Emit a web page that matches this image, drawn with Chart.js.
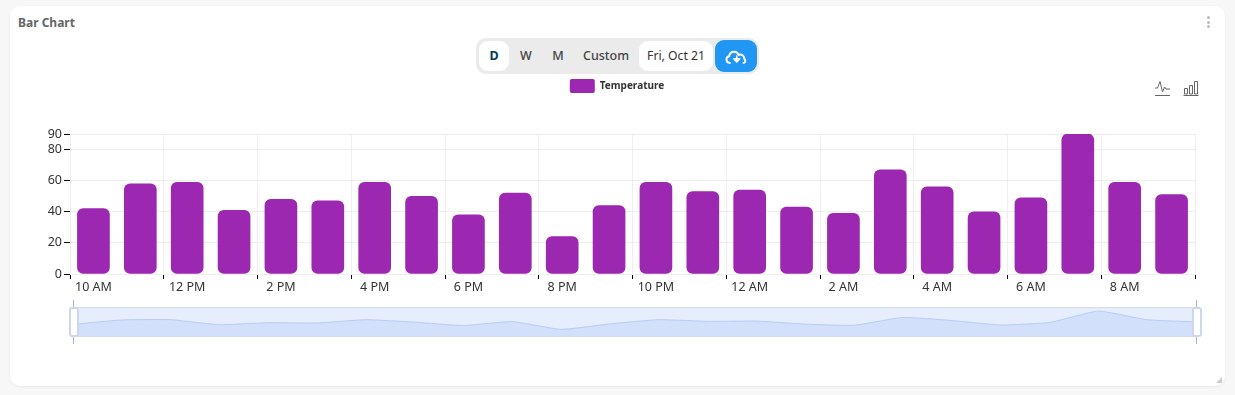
<!DOCTYPE html>
<html lang="en">
<head>
<meta charset="UTF-8">
<title>Bar Chart</title>
<script src="https://cdn.jsdelivr.net/npm/chart.js"></script>
<style>
* { box-sizing: border-box; margin: 0; padding: 0; }
html, body { width: 1235px; height: 395px; overflow: hidden; }
body { background: #f7f7f7; font-family: "Noto Sans", sans-serif; color: #333; position: relative; }
.card { position: absolute; left: 10px; top: 6px; width: 1215px; height: 380px; background: #fff; border-radius: 10px; box-shadow: 0 1px 3px rgba(0,0,0,.06); }
.title { position: absolute; left: 18px; top: 14px; font-size: 12px; font-weight: 700; color: #666; line-height: 17px; }
.dots { position: absolute; left: 1207px; top: 16px; width: 3px; }
.dots i { display: block; width: 3px; height: 3px; border-radius: 50%; background: #bbb; margin-bottom: 1.5px; }
.bar { position: absolute; left: 476px; top: 38px; width: 283px; height: 36px; background: #ebebeb; border-radius: 10px; }
.bar span { position: absolute; top: 3px; height: 30px; line-height: 30px; text-align: center; font-size: 12.5px; color: #444; font-weight: 500; }
.bar .on { background: #fff; border-radius: 9px; }
.bar .day { color: #003b5c; font-weight: 700; }
.bar .date { color: #333; font-weight: 400; font-size: 12.2px; }
.bar .dl { position: absolute; left: 239px; top: 2px; width: 42px; height: 32px; background: #2196f3; border-radius: 9px; }
#main { position: absolute; left: 38px; top: 70px; }
#overview { position: absolute; left: 73px; top: 307px; }
.win { position: absolute; left: 73px; top: 307px; width: 1123px; height: 30px; border: 1px solid #d2dbee; background: #e6edfd; }
.handle { position: absolute; top: 307px; width: 10px; height: 30px; background: #fff; border: 2px solid #cdd6ea; border-radius: 3px; }
.stem { position: absolute; top: 300px; width: 1px; height: 44px; background: #a9b6d3; }
.ico { position: absolute; top: 80px; }
.grip { position: absolute; left: 1215px; top: 376px; }
</style>
</head>
<body>
<div class="card"></div>
<div class="title">Bar Chart</div>
<div class="dots"><i></i><i></i><i></i></div>
<div class="bar">
    <span class="on day" style="left:3px;width:30px">D</span>
    <span style="left:34px;width:32px">W</span>
    <span style="left:66px;width:32px">M</span>
    <span style="left:100px;width:60px">Custom</span>
    <span class="on date" style="left:163px;width:74px">Fri, Oct 21</span>
    <div class="dl">
        <svg width="42" height="32" viewBox="0 0 42 32">
            <g transform="translate(21 16.500) scale(.75) translate(-20 -14)">
                <path d="M13 22.500h-1.500a4.500 4.500 0 0 1-.6-8.900 6.600 6.600 0 0 1 12.700-1.800 5.400 5.400 0 0 1 7.400 5 3.300 3.300 0 0 1 -.5 5.700h-1.500" fill="none" stroke="#fff" stroke-width="2.600"/>
                <path d="M21 12.500v7.500M17 17l4 4.500 4-4.500z" fill="#fff" stroke="#fff" stroke-width="2" stroke-linejoin="round"/>
            </g>
        </svg>
    </div>
</div>
<svg class="ico" style="left:1154px" width="17" height="18" viewBox="0 0 17 18">
    <path d="M1 8h2.500L6 1.500 8.500 12 10.500 7l1.500 2h4" fill="none" stroke="#666" stroke-width="1"/>
    <path d="M1 15.500h15" stroke="#666" stroke-width="1"/>
</svg>
<svg class="ico" style="left:1183px" width="16" height="18" viewBox="0 0 16 18">
    <path d="M1.500 8.500h3v5.500h-3zM6.500 5.500h3v8.500h-3zM11.500 1.500h3v12.500h-3z" fill="none" stroke="#666" stroke-width="1"/>
    <path d="M0.500 15.500h15" stroke="#666" stroke-width="1"/>
</svg>
<canvas id="main" width="1160" height="230"></canvas>
<div class="win"></div>
<canvas id="overview" width="1123" height="29"></canvas>
<div class="stem" style="left:73px"></div>
<div class="stem" style="left:1196px"></div>
<div class="handle" style="left:69px"></div>
<div class="handle" style="left:1192px"></div>
<svg class="grip" width="8" height="8" viewBox="0 0 8 8"><path d="M7 1v6H1z" fill="#ccc"/></svg>

<script>
const categories = ['10 AM', '11 AM', '12 PM', '1 PM', '2 PM', '3 PM', '4 PM', '5 PM', '6 PM', '7 PM', '8 PM', '9 PM',
    '10 PM', '11 PM', '12 AM', '1 AM', '2 AM', '3 AM', '4 AM', '5 AM', '6 AM', '7 AM', '8 AM', '9 AM'];
const temperature = [42, 58, 59, 41, 48, 47, 59, 50, 38, 52, 24, 44, 59, 53, 54, 43, 39, 67, 56, 40, 49, 90, 59, 51];
const yTicks = [0, 20, 40, 60, 80, 90];

const purple = '#9c27b0';
const gridColor = '#eeeeee';

// only every second boundary gets a line and a tick mark
function everyOther(color) {
    return ctx => (ctx.index === undefined || ctx.index % 2 === 0) ? color : 'transparent';
}

const mainChart = new Chart(document.getElementById('main'), {
    type: 'bar',
    data: {
        labels: categories,
        datasets: [{
            label: 'Temperature',
            data: temperature,
            backgroundColor: purple,
            barThickness: 32,
            borderRadius: 6,
            borderSkipped: false,
        }],
    },
    options: {
        responsive: false,
        animation: false,
        layout: { padding: { left: 1, right: 3 } },
        plugins: {
            legend: {
                position: 'top',
                onClick: null,
                labels: {
                    boxWidth: 25,
                    boxHeight: 14,
                    padding: 9,
                    useBorderRadius: true,
                    borderRadius: 2,
                    color: '#333',
                    font: { family: 'Noto Sans', size: 10, weight: 'bold' },
                },
            },
            tooltip: { enabled: false },
        },
        scales: {
            x: {
                offset: true,
                grid: { offset: true, color: everyOther(gridColor), tickColor: everyOther('#000'), tickLength: 5 },
                border: { color: gridColor },
                ticks: {
                    autoSkip: false,
                    maxRotation: 0,
                    padding: 1,
                    color: '#333',
                    font: { family: 'Noto Sans', size: 12.5 },
                    callback: (v, i) => i % 2 === 0 ? categories[i] : '',
                },
                afterFit: s => { s.height = 26; },
            },
            y: {
                min: 0,
                max: 90,
                grid: { color: gridColor, tickColor: '#000', tickLength: 6 },
                border: { color: gridColor },
                ticks: {
                    padding: 2,
                    color: '#333',
                    font: { family: 'Noto Sans', size: 12.5 },
                },
                afterBuildTicks: s => { s.ticks = yTicks.map(v => ({ value: v })); },
                afterFit: s => { s.width = 31; },
            },
        },
    },
    plugins: [{
        // legend reserves more room than its own row so the plot starts lower
        id: 'legendHeight',
        beforeLayout(chart) {
            const legend = chart.legend;
            if (legend.fitPatched) return;
            const fit = legend.fit;
            legend.fit = function () {
                fit.call(this);
                this.height = 64;
            };
            legend.fitPatched = true;
        },
    }],
});

const overviewChart = new Chart(document.getElementById('overview'), {
    type: 'line',
    data: {
        labels: categories,
        datasets: [{
            data: temperature,
            borderColor: '#b5cbf7',
            borderWidth: 1,
            backgroundColor: '#d2e0fb',
            fill: 'origin',
            pointRadius: 0,
            tension: 0.15,
        }],
    },
    options: {
        responsive: false,
        animation: false,
        plugins: { legend: { display: false }, tooltip: { enabled: false } },
        scales: {
            x: { display: false },
            y: { display: false, min: 0, max: 105 },
        },
    },
});
</script>
</body>
</html>
